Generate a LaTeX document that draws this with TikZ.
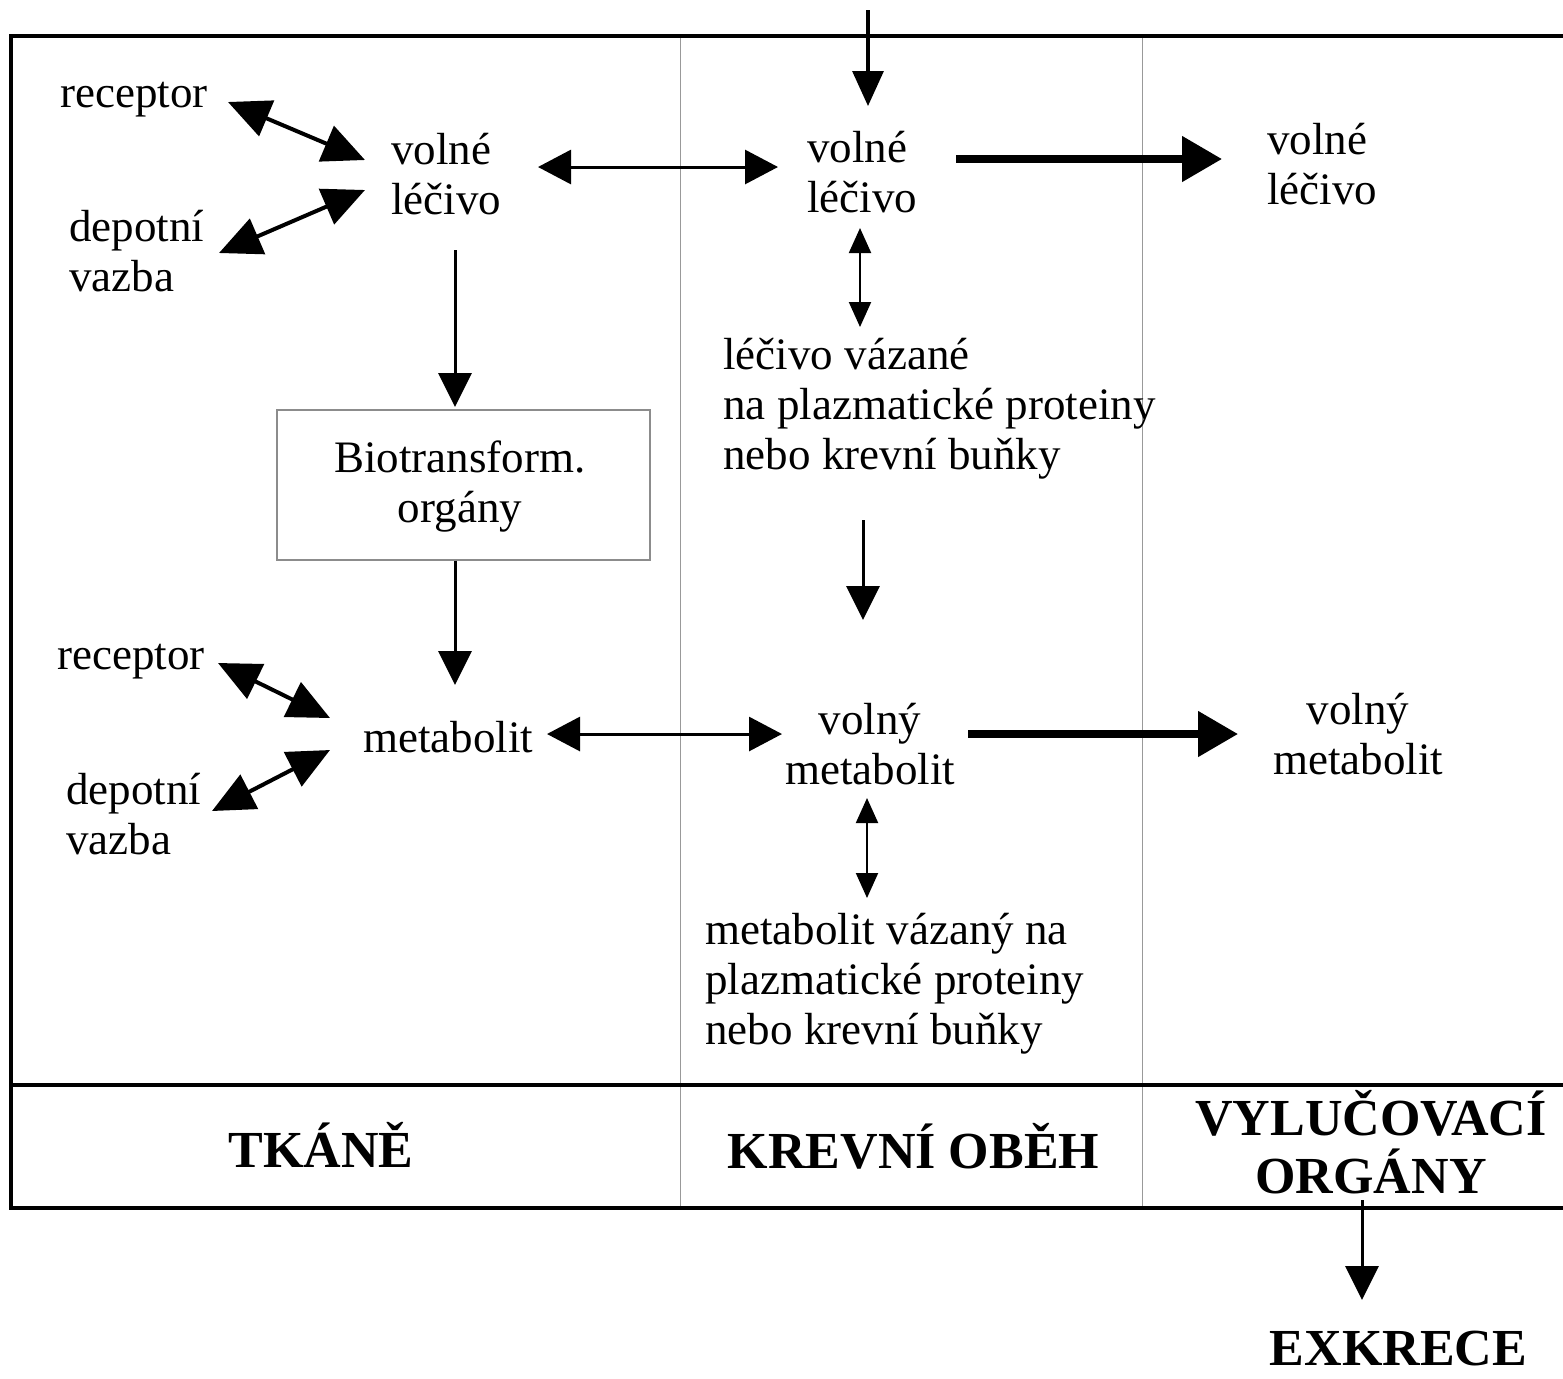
\documentclass[tikz,border=0pt]{standalone}
\usepackage{fontspec}
\setmainfont{Liberation Serif}
\usetikzlibrary{arrows.meta}
\newcommand\Lft[1]{\vtop{\halign{##\hfil\cr#1\crcr}}}
\newcommand\Ctr[1]{\vtop{\halign{\hfil##\hfil\cr#1\crcr}}}
\tikzset{
  txt/.style={font=\fontsize{22.5}{25}\selectfont, inner sep=0pt},
  lft/.style={txt, anchor=base west},
  ctr/.style={txt, anchor=base},
  hdr/.style={font=\fontsize{26}{29}\selectfont\bfseries, inner sep=0pt, anchor=base},
  frame/.style={line width=2pt, black},
  divider/.style={line width=0.5pt, gray!80},
  onearrow/.style={line width=1.5pt, -{Triangle[length=17pt,width=16.5pt]}},
  twoarrow/.style={line width=1.5pt, {Triangle[length=16.5pt,width=17pt]}-{Triangle[length=16.5pt,width=17pt]}},
  diagarrow/.style={line width=2pt, {Triangle[length=21pt,width=19pt]}-{Triangle[length=21pt,width=19pt]}},
  thickarrow/.style={line width=4pt, -{Triangle[length=20pt,width=22pt]}},
  smallarrow/.style={line width=1pt, {Triangle[length=12.5pt,width=11pt]}-{Triangle[length=12.5pt,width=11pt]}},
}
\begin{document}
\begin{tikzpicture}[x=0.5pt,y=-0.5pt]
\useasboundingbox (0,0) rectangle (1563,1378);
% frame
\draw[divider] (680,36) -- (680,1208);
\draw[divider] (1142,36) -- (1142,1208);
\draw[frame] (1563,36) -- (11,36) -- (11,1208) -- (1563,1208);
\draw[frame] (11,1085) -- (1563,1085);
% box
\node[draw=gray!90, line width=0.6pt, minimum width=186.5pt, minimum height=75pt, inner sep=0pt] (bio) at (463.5,485) {};
% texts
\node[lft] (rec1) at (60,107) {receptor};
\node[lft] (volL) at (391,164) {\Lft{volné\cr léčivo}};
\node[lft] (dep1) at (69,241) {\Lft{depotní\cr vazba}};
\node[lft] (volM) at (807,162) {\Lft{volné\cr léčivo}};
\node[lft] (volR) at (1267,154) {\Lft{volné\cr léčivo}};
\node[lft] (lecVaz) at (723,369) {\Lft{léčivo vázané\cr na plazmatické proteiny\cr nebo krevní buňky}};
\node[ctr] (biotxt) at (460,472) {\Ctr{Biotransform.\cr orgány}};
\node[lft] (rec2) at (57,669) {receptor};
\node[lft] (met) at (363,752) {metabolit};
\node[lft] (dep2) at (66,804) {\Lft{depotní\cr vazba}};
\node[ctr] (volnyM) at (870,734) {\Ctr{volný\cr metabolit}};
\node[ctr] (volnyR) at (1358,724) {\Ctr{volný\cr metabolit}};
\node[lft] (metVaz) at (705,944) {\Lft{metabolit vázaný na\cr plazmatické proteiny\cr nebo krevní buňky}};
\node[hdr] (tkane) at (321,1167) {TKÁNĚ};
\node[hdr] (krev) at (913.5,1168) {KREVNÍ OBĚH};
\node[hdr] (vyluc) at (1371,1135) {\Ctr{VYLUČOVACÍ\cr ORGÁNY}};
\node[hdr] (exkr) at (1398.5,1365) {EXKRECE};
% arrow end points
\coordinate (in0) at (868,10);
\coordinate (in1) at (868,106);
\coordinate (r1a) at (228,102);
\coordinate (r1b) at (365,160);
\coordinate (d1a) at (219,253);
\coordinate (d1b) at (365,190);
\coordinate (h1a) at (538,167);
\coordinate (h1b) at (778,167);
\coordinate (t1a) at (956,159);
\coordinate (t1b) at (1222,159);
\coordinate (v1a) at (860,228);
\coordinate (v1b) at (860,327);
\coordinate (m1a) at (863,520);
\coordinate (m1b) at (863,620);
\coordinate (l1a) at (455,250);
\coordinate (l1b) at (455,407);
\coordinate (l2b) at (455,685);
\coordinate (r2a) at (218,663);
\coordinate (r2b) at (330,718);
\coordinate (d2a) at (212,811);
\coordinate (d2b) at (330,750);
\coordinate (h2a) at (547,734);
\coordinate (h2b) at (782,734);
\coordinate (t2a) at (968,734);
\coordinate (t2b) at (1238,734);
\coordinate (v2a) at (867,798);
\coordinate (v2b) at (867,898);
\coordinate (e1a) at (1362,1200);
\coordinate (e1b) at (1362,1300);
% arrows
\draw[onearrow, line width=1.6pt, -{Triangle[length=17.5pt,width=15.5pt]}] (in0) -- (in1);
\draw[diagarrow] (r1a) -- (r1b);
\draw[diagarrow] (d1a) -- (d1b);
\draw[twoarrow] (h1a) -- (h1b);
\draw[thickarrow] (t1a) -- (t1b);
\draw[smallarrow] (v1a) -- (v1b);
\draw[onearrow] (m1a) -- (m1b);
\draw[onearrow] (l1a) -- (l1b);
\draw[onearrow] (bio.south -| l2b) -- (l2b);
\draw[diagarrow] (r2a) -- (r2b);
\draw[diagarrow] (d2a) -- (d2b);
\draw[twoarrow] (h2a) -- (h2b);
\draw[thickarrow] (t2a) -- (t2b);
\draw[smallarrow] (v2a) -- (v2b);
\draw[onearrow] (e1a) -- (e1b);
\end{tikzpicture}
\end{document}
